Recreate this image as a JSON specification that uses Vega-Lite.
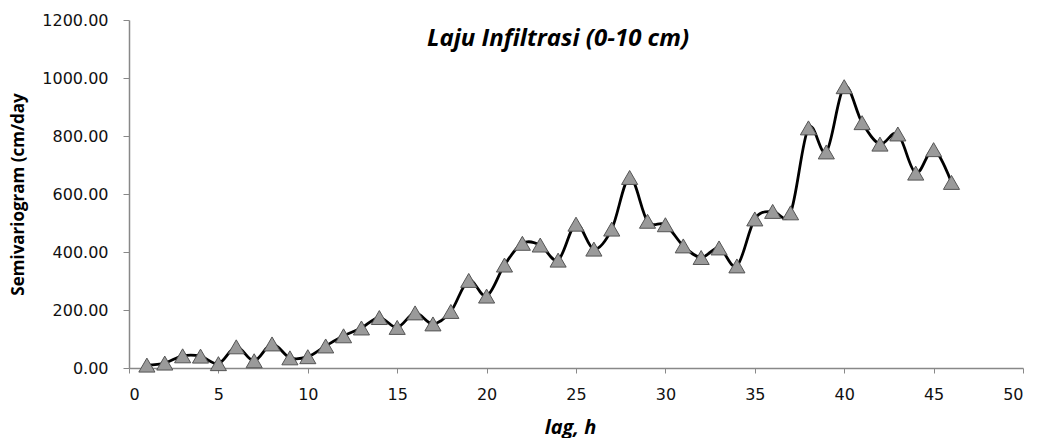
{
  "$schema": "https://vega.github.io/schema/vega-lite/v6.json",
  "autosize": {"type": "none"},
  "width": 894,
  "height": 348,
  "padding": {"left": 129, "top": 20, "right": 17, "bottom": 70},
  "background": "white",
  "config": {"view": {"stroke": null}},
  "title": {
    "text": "Laju Infiltrasi (0-10 cm)",
    "font": "Open Sans",
    "fontSize": 24,
    "fontWeight": "bold",
    "fontStyle": "italic",
    "color": "#000",
    "anchor": "middle",
    "frame": "group",
    "baseline": "middle",
    "offset": -22,
    "dx": -18,
    "dy": 29
  },
  "data": {
    "values": [
      {"lag": 1, "gamma": 10}, {"lag": 2, "gamma": 17}, {"lag": 3, "gamma": 42},
      {"lag": 4, "gamma": 41}, {"lag": 5, "gamma": 15}, {"lag": 6, "gamma": 73},
      {"lag": 7, "gamma": 25}, {"lag": 8, "gamma": 83}, {"lag": 9, "gamma": 35},
      {"lag": 10, "gamma": 39}, {"lag": 11, "gamma": 76}, {"lag": 12, "gamma": 111},
      {"lag": 13, "gamma": 138}, {"lag": 14, "gamma": 174}, {"lag": 15, "gamma": 140},
      {"lag": 16, "gamma": 190}, {"lag": 17, "gamma": 152}, {"lag": 18, "gamma": 195},
      {"lag": 19, "gamma": 302}, {"lag": 20, "gamma": 248}, {"lag": 21, "gamma": 355},
      {"lag": 22, "gamma": 430}, {"lag": 23, "gamma": 424}, {"lag": 24, "gamma": 372},
      {"lag": 25, "gamma": 496}, {"lag": 26, "gamma": 410}, {"lag": 27, "gamma": 479},
      {"lag": 28, "gamma": 657}, {"lag": 29, "gamma": 506}, {"lag": 30, "gamma": 494},
      {"lag": 31, "gamma": 421}, {"lag": 32, "gamma": 381}, {"lag": 33, "gamma": 414},
      {"lag": 34, "gamma": 352}, {"lag": 35, "gamma": 514}, {"lag": 36, "gamma": 540},
      {"lag": 37, "gamma": 535}, {"lag": 38, "gamma": 828}, {"lag": 39, "gamma": 745},
      {"lag": 40, "gamma": 970}, {"lag": 41, "gamma": 846}, {"lag": 42, "gamma": 772},
      {"lag": 43, "gamma": 807}, {"lag": 44, "gamma": 672}, {"lag": 45, "gamma": 753},
      {"lag": 46, "gamma": 640}
    ]
  },
  "encoding": {
    "x": {
      "field": "lag",
      "type": "quantitative",
      "scale": {"domain": [0, 50], "nice": false},
      "axis": {
        "title": "lag, h",
        "values": [0, 5, 10, 15, 20, 25, 30, 35, 40, 45, 50],
        "grid": false,
        "domainColor": "#888888",
        "domainWidth": 1.5,
        "tickColor": "#888888",
        "tickSize": 5,
        "labelFont": "DejaVu Sans",
        "labelFontSize": 16,
        "labelColor": "#111111",
        "labelPadding": 13,
        "titleFont": "Open Sans",
        "titleFontSize": 20,
        "titleFontWeight": "bold",
        "titleFontStyle": "italic",
        "titleColor": "#000",
        "titleBaseline": "middle",
        "titleX": 441,
        "titleY": 59
      }
    },
    "y": {
      "field": "gamma",
      "type": "quantitative",
      "scale": {"domain": [0, 1200], "nice": false},
      "axis": {
        "title": "Semivariogram (cm/day",
        "values": [0, 200, 400, 600, 800, 1000, 1200],
        "format": ".2f",
        "grid": false,
        "domainColor": "#888888",
        "domainWidth": 1.5,
        "tickColor": "#888888",
        "tickSize": 6,
        "labelFont": "DejaVu Sans",
        "labelFontSize": 16,
        "labelColor": "#111111",
        "labelPadding": 15,
        "titleFont": "Open Sans",
        "titleFontSize": 17,
        "titleFontWeight": "bold",
        "titleColor": "#000",
        "titleBaseline": "middle",
        "titleAngle": -90,
        "titleX": -111,
        "titleY": 174
      }
    }
  },
  "layer": [
    {
      "mark": {"type": "line", "interpolate": "cardinal", "color": "#000000", "strokeWidth": 2.8}
    },
    {
      "mark": {"type": "point", "shape": "triangle-up", "size": 260, "filled": true, "fill": "#9a9a9a", "stroke": "#555555", "strokeWidth": 1, "opacity": 1}
    }
  ]
}
